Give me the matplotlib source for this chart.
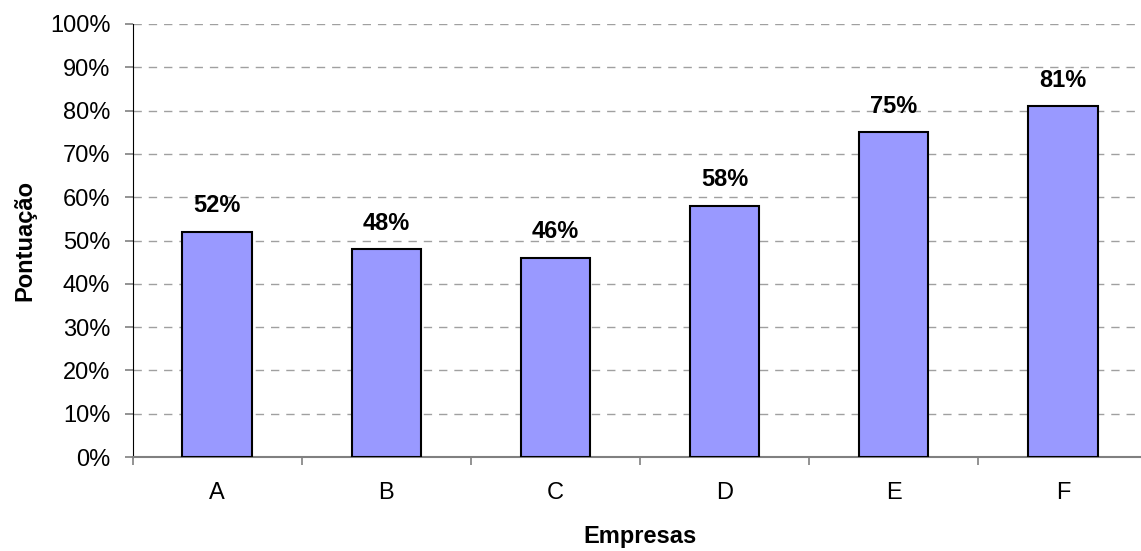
import matplotlib.pyplot as plt
import numpy as np
from matplotlib.ticker import FixedLocator

plt.rcParams['font.family'] = ['Liberation Sans', 'DejaVu Sans']

empresas = ['A', 'B', 'C', 'D', 'E', 'F']
pontuacao = [52, 48, 46, 58, 75, 81]
yticks = list(range(0, 101, 10))

fig = plt.figure(figsize=(11.41, 5.51), dpi=100)
ax = fig.add_axes([132.5/1141, 94/551, 1015/1141, 433/551])

x = np.arange(len(empresas))
ax.bar(x, pontuacao, width=0.41, color='#9999FF', edgecolor='black', linewidth=1.5, zorder=3)

for xi, v in zip(x, pontuacao):
    ax.annotate(f'{v}%', (xi, v), xytext=(0, 14), textcoords='offset points',
                ha='center', va='baseline', fontsize=17, fontweight='bold')

ax.set_xlim(-0.5, len(empresas) - 0.5)
ax.set_ylim(0, 100)
ax.set_yticks(yticks)
ax.set_yticklabels([f'{t}%' for t in yticks], fontsize=17)
ax.set_xticks(x)
ax.set_xticklabels(empresas, fontsize=17)
ax.xaxis.set_minor_locator(FixedLocator(np.arange(-0.5, len(empresas), 1)))
ax.tick_params(axis='x', which='major', length=0, pad=18)
ax.tick_params(axis='x', which='minor', length=6, color='#808080', width=1.2)
ax.tick_params(axis='y', length=6, color='#808080', width=1.2, pad=10)

ax.grid(axis='y', linestyle=(0, (6, 5)), color='#a0a0a0', linewidth=1, zorder=0)
ax.spines['top'].set_visible(False)
ax.spines['right'].set_visible(False)
ax.spines['left'].set_color('black')
ax.spines['bottom'].set_color('#808080')
ax.spines['bottom'].set_linewidth(1.5)

ax.set_xlabel('Empresas', fontsize=17, fontweight='bold', labelpad=15)
ax.set_ylabel('Pontuação', fontsize=17, fontweight='bold', labelpad=10)

fig.savefig('out.png', dpi=100)
